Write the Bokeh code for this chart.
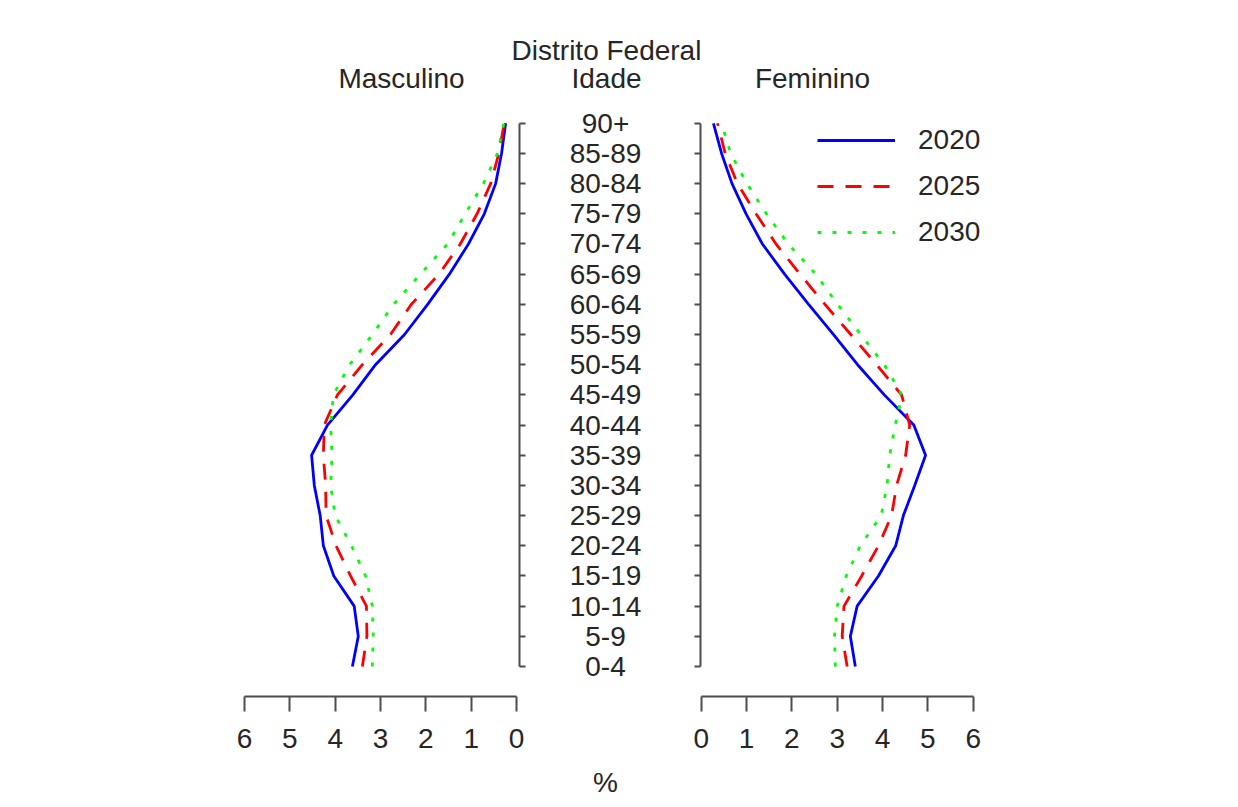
from bokeh.plotting import figure
from bokeh.models import Range1d, FixedTicker, Legend, LegendItem, LinearAxis
from bokeh.layouts import row, column
from bokeh.embed import file_html
from bokeh.resources import INLINE
from bokeh.core.properties import value

# ---------------- data ----------------
ages = ["0-4", "5-9", "10-14", "15-19", "20-24", "25-29", "30-34", "35-39",
        "40-44", "45-49", "50-54", "55-59", "60-64", "65-69", "70-74",
        "75-79", "80-84", "85-89", "90+"]
age_pos = list(range(1, len(ages) + 1))
years = ["2020", "2025", "2030"]

male_2020 = [3.62, 3.49, 3.58, 4.03, 4.26, 4.33, 4.46, 4.52, 4.17, 3.61,
             3.11, 2.47, 1.96, 1.48, 1.06, 0.71, 0.46, 0.33, 0.24]
male_2025 = [3.40, 3.30, 3.31, 3.66, 3.98, 4.20, 4.21, 4.26, 4.24, 3.95,
             3.40, 2.78, 2.32, 1.71, 1.24, 0.87, 0.57, 0.39, 0.27]
male_2030 = [3.18, 3.16, 3.18, 3.33, 3.64, 4.00, 4.10, 4.07, 4.10, 4.04,
             3.68, 3.18, 2.71, 2.12, 1.52, 1.13, 0.73, 0.42, 0.28]

female_2020 = [3.40, 3.29, 3.44, 3.91, 4.29, 4.46, 4.71, 4.95, 4.69, 4.04,
               3.45, 2.92, 2.37, 1.84, 1.35, 0.99, 0.68, 0.45, 0.27]
female_2025 = [3.22, 3.11, 3.15, 3.54, 3.91, 4.20, 4.31, 4.51, 4.60, 4.42,
               3.87, 3.30, 2.73, 2.18, 1.65, 1.21, 0.80, 0.53, 0.36]
female_2030 = [2.96, 2.94, 3.00, 3.20, 3.51, 3.97, 4.10, 4.16, 4.28, 4.43,
               4.04, 3.52, 3.01, 2.53, 1.92, 1.44, 1.01, 0.65, 0.45]

x_ticks = [0, 1, 2, 3, 4, 5, 6]

title_main = "Distrito Federal"
title_male = "Masculino"
title_age = "Idade"
title_female = "Feminino"
x_label = "%"

# ---------------- style ----------------
FONT = "Liberation Sans"
TEXT = "#262626"
AXC = "#4d4d4d"
FS = "28px"
colors = ["#0000FF", "#FF0000", "#00FF00"]
dashes = ["solid", "16 12", "4 11"]
LW = 2.8

W = 1238
H = 807
TOP = 100              # height of the title strip
BOT_AX = 696           # pixel row of the x axes
PXU_Y = 30.18          # pixels per age step
Y0_PX = 666            # pixel row of first age group
PXU_X = 45.33          # pixels per percent


def yv(px):
    return 1 + (Y0_PX - px) / PXU_Y


side_y = Range1d(yv(BOT_AX), yv(TOP))


def side_fig(width, mbl, mbr, xr, yloc):
    p = figure(width=width, height=H - TOP, x_range=xr, y_range=side_y,
               output_backend="svg", toolbar_location=None,
               min_border_left=mbl, min_border_right=mbr,
               min_border_top=0, min_border_bottom=H - BOT_AX,
               x_axis_location="below", y_axis_location=yloc)
    p.outline_line_color = None
    p.grid.visible = False
    for ax in (p.xaxis[0], p.yaxis[0]):
        ax.axis_line_color = AXC
        ax.axis_line_width = 2
        ax.major_tick_line_color = AXC
        ax.major_tick_line_width = 2
        ax.major_tick_in = 0
        ax.minor_tick_in = 0
        ax.minor_tick_out = 0
    xa = p.xaxis[0]
    xa.ticker = FixedTicker(ticks=x_ticks)
    xa.bounds = (min(x_ticks), max(x_ticks))
    xa.major_tick_out = 15
    xa.major_label_standoff = 17
    xa.major_label_text_font = FONT
    xa.major_label_text_font_size = FS
    xa.major_label_text_color = TEXT
    ya = p.yaxis[0]
    ya.ticker = FixedTicker(ticks=age_pos)
    ya.bounds = (1, len(ages))
    ya.major_label_overrides = {t: "" for t in age_pos}
    ya.major_label_standoff = 0
    return p


# left (male): 6 at x=244, 0 at x=516, frame 244..519
left = side_fig(540, 244, 21, Range1d(6, -3 / PXU_X), "right")
# right (female): 0 at x=700.7, frame 700..1010
right = side_fig(W - 670, 30, W - 1010,
                 Range1d(-0.7 / PXU_X, 309.3 / PXU_X), "left")

male = [male_2020, male_2025, male_2030]
female = [female_2020, female_2025, female_2030]
items = []
for i, yr in enumerate(years):
    left.line(male[i], age_pos, line_color=colors[i], line_width=LW,
              line_dash=dashes[i])
    r = right.line(female[i], age_pos, line_color=colors[i], line_width=LW,
                   line_dash=dashes[i])
    items.append(LegendItem(label=yr, renderers=[r]))

legend = Legend(items=items, location=(117, 448), glyph_width=78,
                glyph_height=20, label_height=20, label_standoff=23,
                spacing=14, padding=0, margin=0, border_line_color=None,
                background_fill_alpha=0, label_text_font=FONT,
                label_text_font_size=FS, label_text_color=TEXT)
right.add_layout(legend)

tk = dict(text_font=value(FONT), text_font_size=value(FS),
          text_align="center", text_baseline="middle", text_color=TEXT)

# middle: age labels
mid = figure(width=130, height=H - TOP, x_range=Range1d(0, 1), y_range=side_y,
             output_backend="svg", toolbar_location=None,
             min_border_left=0, min_border_right=0, min_border_top=0,
             min_border_bottom=H - BOT_AX, x_axis_location=None,
             y_axis_location=None)
mid.outline_line_color = None
mid.grid.visible = False
mid.text(x=[0.5] * len(ages), y=age_pos, text=ages, **tk)
pct_axis = LinearAxis(ticker=FixedTicker(ticks=[]), axis_line_color=None,
                      major_tick_out=0, major_tick_in=0, minor_tick_out=0,
                      minor_tick_in=0, major_label_text_font_size="0px",
                      axis_label=x_label, axis_label_standoff=70,
                      axis_label_text_font=FONT,
                      axis_label_text_font_size=FS,
                      axis_label_text_font_style="normal",
                      axis_label_text_color=TEXT)
mid.add_layout(pct_axis, "below")

# top strip with the titles
top = figure(width=W, height=TOP, x_range=Range1d(0, W), y_range=Range1d(TOP, 0),
             output_backend="svg", toolbar_location=None,
             min_border_left=0, min_border_right=0, min_border_top=0,
             min_border_bottom=0, x_axis_location=None, y_axis_location=None)
top.outline_line_color = None
top.grid.visible = False
top.text(x=[606], y=[50], text=[title_main], **tk)
top.text(x=[401, 606, 812], y=[78, 78, 78],
         text=[title_male, title_age, title_female], **tk)

layout = column(top, row(left, mid, right, spacing=0), spacing=0)
open("out.html", "w").write(file_html(layout, INLINE))
